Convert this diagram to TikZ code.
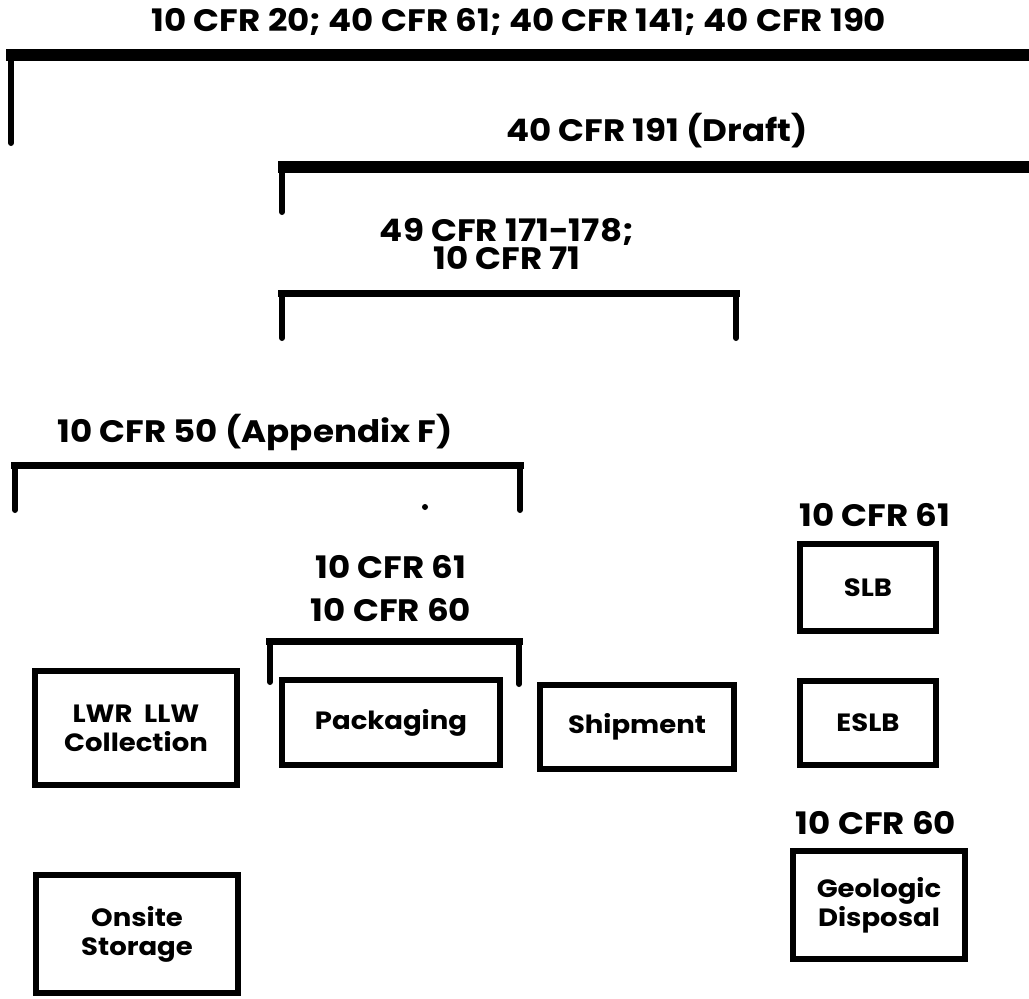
\documentclass[tikz,border=0pt]{standalone}
\usepackage{fontspec}
\setmainfont{Poppins}[FakeStretch=1.1]
\begin{document}
\begin{tikzpicture}[x=1pt,y=-1pt,
  hdr/.style={font=\fontsize{31}{27}\selectfont\bfseries, anchor=base, inner sep=0pt},
  hdrtwo/.style={font=\fontsize{31}{27}\selectfont\bfseries, align=center, inner sep=0pt},
  lbl/.style={font=\fontsize{25}{29}\selectfont\bfseries, align=center},
  boxnode/.style={draw, line width=6pt, inner sep=0pt, rectangle},
  thickbar/.style={line width=12pt},
  thinbar/.style={line width=7pt},
  leg/.style={line width=6pt, line cap=round}]
\useasboundingbox (0,0) rectangle (1029,999);
% bracket 1
\coordinate (a1) at (6,55); \coordinate (a2) at (1035,55);
\coordinate (a3) at (11,55); \coordinate (a4) at (11,143);
\draw[thickbar] (a1) -- (a2);
\draw[leg] (a3) -- (a4);
\node[hdr] (t1) at (519,31) {10 CFR 20; 40 CFR 61; 40 CFR 141; 40 CFR 190};
% bracket 2
\coordinate (b1) at (278,167); \coordinate (b2) at (1035,167);
\coordinate (b3) at (282,167); \coordinate (b4) at (282,212);
\draw[thickbar] (b1) -- (b2);
\draw[leg] (b3) -- (b4);
\node[hdr] (t2) at (657,141) {40 CFR 191 (Draft)};
% bracket 3
\node[hdrtwo] (t3) at (507,244) {49 CFR 171-178;\\10 CFR 71};
\coordinate (c1) at (278,293); \coordinate (c2) at (740,293);
\coordinate (c3) at (282,293); \coordinate (c4) at (282,338);
\coordinate (c5) at (736,293); \coordinate (c6) at (736,338);
\draw[thinbar] (c1) -- (c2);
\draw[leg] (c3) -- (c4);
\draw[leg] (c5) -- (c6);
% bracket 4
\node[hdr] (t5) at (255,442) {10 CFR 50 (Appendix F)};
\coordinate (d1) at (11,465); \coordinate (d2) at (524,465);
\coordinate (d3) at (15,465); \coordinate (d4) at (15,510);
\coordinate (d5) at (520,465); \coordinate (d6) at (520,510);
\draw[thinbar] (d1) -- (d2);
\draw[leg] (d3) -- (d4);
\draw[leg] (d5) -- (d6);
\fill (425,507) circle (3);
% bracket 5
\node[hdr] (t6) at (391,578) {10 CFR 61};
\node[hdr] (t7) at (391,621) {10 CFR 60};
\coordinate (e1) at (266,641); \coordinate (e2) at (523,641);
\coordinate (e3) at (270,641); \coordinate (e4) at (270,682);
\coordinate (e5) at (519,641); \coordinate (e6) at (519,684);
\draw[thinbar] (e1) -- (e2);
\draw[leg] (e3) -- (e4);
\draw[leg] (e5) -- (e6);
% right labels
\node[hdr] (t8) at (875,526) {10 CFR 61};
\node[hdr] (t9) at (876,834) {10 CFR 60};
% boxes
\node[boxnode, minimum width=202pt, minimum height=114pt] (col) at (136,728) {};
\node[lbl] at (col) {LWR\ \ LLW\\Collection};
\node[boxnode, minimum width=218pt, minimum height=85pt] (pack) at (391,722.5) {};
\node[lbl] at (pack) {Packaging};
\node[boxnode, minimum width=194pt, minimum height=84pt] (ship) at (637,727) {};
\node[lbl] at (ship) {Shipment};
\node[boxnode, minimum width=136pt, minimum height=87pt] (slb) at (868,587.5) {};
\node[lbl] at (slb) {SLB};
\node[boxnode, minimum width=136pt, minimum height=84pt] (eslb) at (868,723) {};
\node[lbl] at (eslb) {ESLB};
\node[boxnode, minimum width=172pt, minimum height=108pt] (geo) at (879,905) {};
\node[lbl] at (geo) {Geologic\\Disposal};
\node[boxnode, minimum width=202pt, minimum height=118pt] (onsite) at (137,934) {};
\node[lbl] at (onsite) {Onsite\\Storage};
\end{tikzpicture}
\end{document}
